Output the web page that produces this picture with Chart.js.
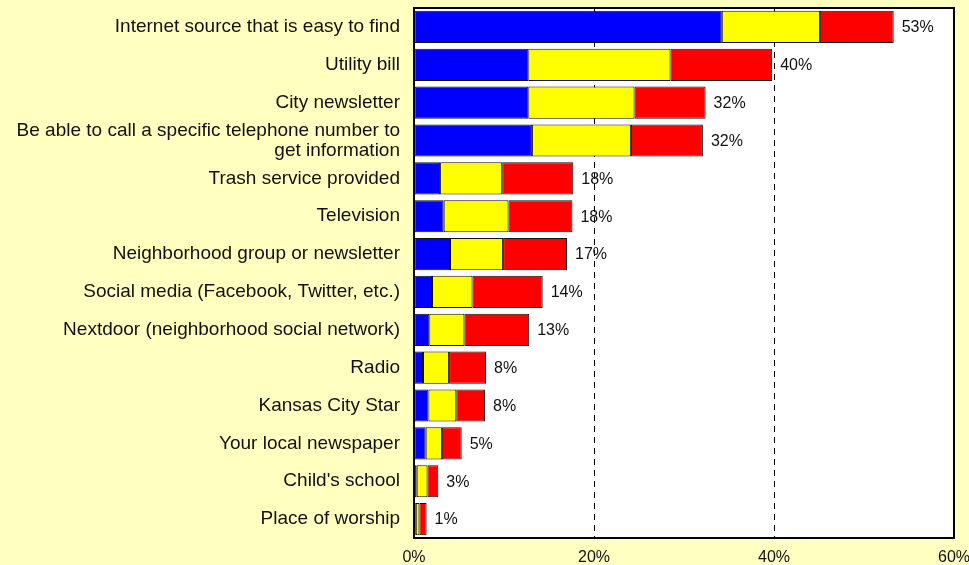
<!DOCTYPE html>
<html>
<head>
<meta charset="utf-8">
<script src="https://cdn.jsdelivr.net/npm/chart.js@4/dist/chart.umd.min.js"></script>
<style>
  html, body { margin: 0; padding: 0; background: #FFFFC0; }
  #wrap { width: 969px; height: 565px; }
</style>
</head>
<body>
<div id="wrap"><canvas id="chart" width="969" height="565"></canvas></div>
<script>
const categories = [
  "Internet source that is easy to find",
  "Utility bill",
  "City newsletter",
  ["Be able to call a specific telephone number to", "get information"],
  "Trash service provided",
  "Television",
  "Neighborhood group or newsletter",
  "Social media (Facebook, Twitter, etc.)",
  "Nextdoor (neighborhood social network)",
  "Radio",
  "Kansas City Star",
  "Your local newspaper",
  "Child's school",
  "Place of worship"
];
const blueValues   = [34.2, 12.7, 12.7, 13.1, 2.9, 3.3, 4.0, 2.0, 1.7, 1.0, 1.6, 1.3, 0.3, 0.2];
const yellowValues = [10.9, 15.8, 11.8, 11.0, 6.9, 7.2, 5.9, 4.5, 3.9, 2.9, 3.1, 1.8, 1.2, 0.4];
const redValues    = [8.2, 11.3, 7.9, 8.0, 7.9, 7.1, 7.1, 7.8, 7.2, 4.1, 3.2, 2.2, 1.2, 0.8];
const totals       = [53, 40, 32, 32, 18, 18, 17, 14, 13, 8, 8, 5, 3, 1];
const xTicks       = [0, 20, 40, 60];

const FONT = "'Liberation Sans', Arial, sans-serif";

// white plot area + black frame
const plotFrame = {
  id: "plotFrame",
  beforeDraw(chart) {
    const { ctx, chartArea: a } = chart;
    ctx.save();
    ctx.fillStyle = "#FFFFFF";
    ctx.fillRect(a.left, a.top, a.right - a.left, a.bottom - a.top);
    ctx.restore();
  },
  afterDraw(chart) {
    const { ctx, chartArea: a } = chart;
    ctx.save();
    ctx.strokeStyle = "#000";
    ctx.lineWidth = 2;
    ctx.strokeRect(a.left, a.top, a.right - a.left, a.bottom - a.top);
    ctx.restore();
  }
};

// total % label after each stacked bar
const totalLabels = {
  id: "totalLabels",
  afterDatasetsDraw(chart) {
    const { ctx } = chart;
    const last = chart.getDatasetMeta(chart.data.datasets.length - 1);
    ctx.save();
    ctx.font = "16px " + FONT;
    ctx.fillStyle = "#111";
    ctx.textAlign = "left";
    ctx.textBaseline = "middle";
    last.data.forEach((bar, i) => {
      ctx.fillText(totals[i] + "%", bar.x + 8, bar.y + 1);
    });
    ctx.restore();
  }
};

const barStyle = {
  borderColor: "#111",
  borderWidth: 1,
  borderSkipped: false,
  categoryPercentage: 1,
  barPercentage: 0.85
};

new Chart(document.getElementById("chart"), {
  type: "bar",
  data: {
    labels: categories,
    datasets: [
      { label: "Blue", data: blueValues, backgroundColor: "#0000FF", ...barStyle },
      { label: "Yellow", data: yellowValues, backgroundColor: "#FFFF00", ...barStyle },
      { label: "Red", data: redValues, backgroundColor: "#FF0000", ...barStyle }
    ]
  },
  options: {
    indexAxis: "y",
    responsive: false,
    animation: false,
    layout: { padding: { top: 8, right: 15, left: 0, bottom: 0 } },
    plugins: {
      legend: { display: false },
      tooltip: { enabled: false }
    },
    scales: {
      x: {
        stacked: true,
        min: 0,
        max: 60,
        afterBuildTicks: (scale) => { scale.ticks = xTicks.map(v => ({ value: v })); },
        ticks: {
          color: "#111",
          font: { family: FONT, size: 16 },
          padding: 10,
          maxRotation: 0,
          callback: (v) => v + "%"
        },
        grid: {
          color: (c) => (c.tick && (c.tick.value === 0 || c.tick.value === 60)) ? "rgba(0,0,0,0)" : "#000",
          lineWidth: 1,
          drawTicks: false
        },
        border: { display: true, color: "#000", width: 2, dash: [6, 5] },
        afterFit: (scale) => {
          scale.height = 27;
          scale.paddingLeft = 0;
          scale.paddingRight = 0;
        }
      },
      y: {
        stacked: true,
        ticks: {
          color: "#111",
          font: { family: FONT, size: 19, lineHeight: 1.05 },
          padding: 14,
          autoSkip: false
        },
        grid: { display: false, drawTicks: false },
        border: { display: true, color: "#000", width: 2 },
        afterFit: (scale) => {
          scale.width = 414;
          scale.paddingTop = 0;
          scale.paddingBottom = 0;
        }
      }
    }
  },
  plugins: [plotFrame, totalLabels]
});
</script>
</body>
</html>
